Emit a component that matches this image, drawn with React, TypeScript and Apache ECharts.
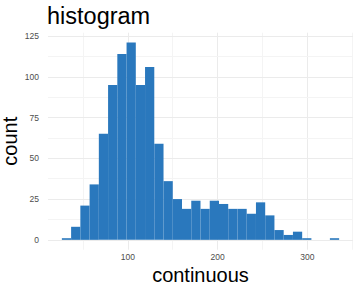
import React, { useEffect, useRef } from "react";
import * as echarts from "echarts";

const binStart = 26.5;
const binWidth = 10.3;
const counts = [1, 8, 21, 34, 65, 95, 114, 121, 95, 106, 59, 36, 25, 19, 24, 19, 24, 22, 19, 19, 16, 23, 15, 6, 3, 5, 1, 0, 0, 1];
const xTicks = [100, 200, 300];
const xMinor = [50, 150, 250, 350];
const yTicks = [0, 25, 50, 75, 100, 125];
const yMinor = [12.5, 37.5, 62.5, 87.5, 112.5];

const FONT = "Liberation Sans";

export default function App() {
  const ref = useRef<HTMLDivElement>(null);
  useEffect(() => {
    if (!ref.current) return;
    const chart = echarts.init(ref.current, undefined, { renderer: "svg" });
    const bins = counts.map((c, i) => [binStart + i * binWidth, binStart + (i + 1) * binWidth, c]);
    const major = { color: "#ebebeb", width: 1, type: "solid" };
    const minor = { color: "#f4f4f4", width: 1, type: "solid" };
    const lines: any[] = [
      ...xTicks.map((v) => ({ xAxis: v, lineStyle: major })),
      ...xMinor.map((v) => ({ xAxis: v, lineStyle: minor })),
      ...yTicks.map((v) => ({ yAxis: v, lineStyle: major })),
      ...yMinor.map((v) => ({ yAxis: v, lineStyle: minor })),
    ];
    chart.setOption({
      animation: false,
      textStyle: { fontFamily: FONT },
      title: {
        text: "histogram",
        left: 47,
        top: 4,
        padding: 0,
        textStyle: { fontFamily: FONT, fontSize: 23.5, fontWeight: "normal", color: "#000" },
      },
      grid: { left: 48, right: 0, top: 32.7, bottom: 38.3, containLabel: false, outerBoundsMode: "none" },
      xAxis: {
        type: "value",
        min: 11.05,
        max: 350.95,
        splitLine: { show: false },
        axisLine: { show: false },
        axisTick: { show: false },
        axisLabel: { customValues: xTicks, color: "#4d4d4d", fontSize: 8.5, fontFamily: FONT, margin: 3 },
        name: "continuous",
        nameLocation: "middle",
        nameGap: 15,
        nameMoveOverlap: false,
        nameTextStyle: { fontFamily: FONT, fontSize: 20, color: "#000" },
      },
      yAxis: {
        type: "value",
        min: -6.05,
        max: 127.05,
        splitLine: { show: false },
        axisLine: { show: false },
        axisTick: { show: false },
        axisLabel: { customValues: yTicks, color: "#4d4d4d", fontSize: 8.5, fontFamily: FONT, margin: 9 },
        name: "count",
        nameLocation: "middle",
        nameRotate: 90,
        nameGap: 28,
        nameMoveOverlap: false,
        nameTextStyle: { fontFamily: FONT, fontSize: 20, color: "#000" },
      },
      series: [
        {
          type: "custom",
          z: 3,
          data: bins,
          encode: { x: [0, 1], y: 2 },
          renderItem: (params: any, api: any) => {
            const p0 = api.coord([api.value(0), api.value(2)]);
            const p1 = api.coord([api.value(1), 0]);
            return {
              type: "rect",
              shape: { x: p0[0], y: p0[1], width: p1[0] - p0[0], height: p1[1] - p0[1] },
              style: { fill: "#2a78bd" },
            };
          },
          markLine: {
            silent: true,
            z: 1,
            symbol: ["none", "none"],
            label: { show: false },
            data: lines,
          },
        },
      ],
    });
    return () => chart.dispose();
  }, []);
  return <div ref={ref} style={{ width: 353, height: 288, position: "absolute", left: 0, top: 0, background: "#fff" }} />;
}
